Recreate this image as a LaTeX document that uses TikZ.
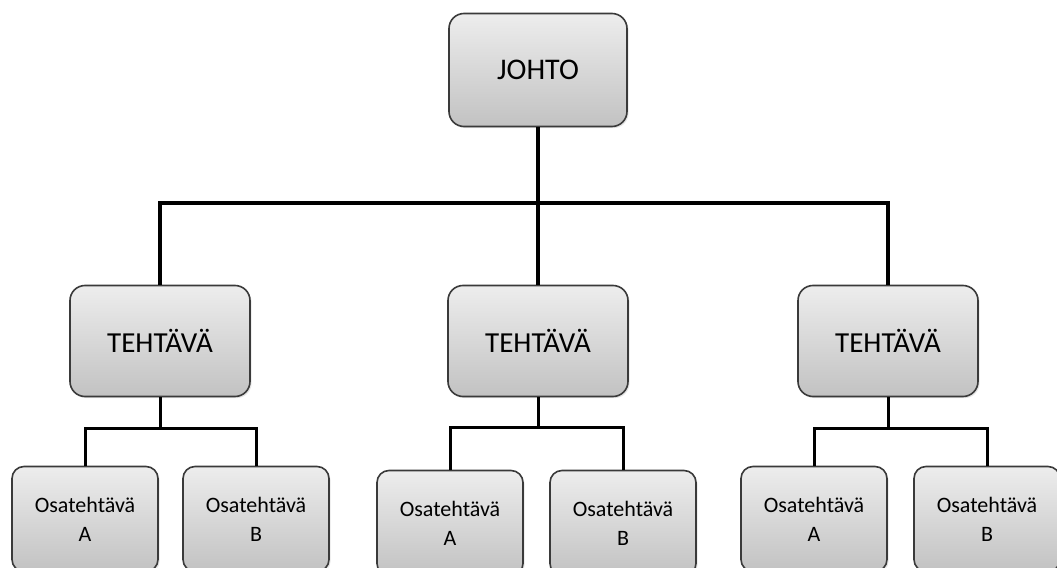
\documentclass[tikz,border=0pt]{standalone}
\usepackage{fontspec}
\setmainfont{Carlito}
\usepackage{xcolor}
\usetikzlibrary{shadows}

\definecolor{boxtop}{HTML}{EDEDED}
\definecolor{boxbot}{HTML}{C2C2C2}
\definecolor{boxline}{HTML}{3A3A3A}

\tikzset{
	orgbox/.style={draw=boxline, line width=0.8pt, rounded corners=7.5pt,
		top color=boxtop, bottom color=boxbot, align=center, inner sep=0pt,
		drop shadow={opacity=0.2, shadow xshift=0.8pt, shadow yshift=-0.8pt}},
	headbox/.style={orgbox, minimum width=89pt, minimum height=56.5pt, font=\fontsize{15}{18}\selectfont},
	taskbox/.style={orgbox, minimum width=90pt, minimum height=55.5pt, font=\fontsize{14.5}{17}\selectfont},
	subbox/.style={orgbox, rounded corners=6pt, minimum width=73pt, minimum height=52.5pt, font=\fontsize{11}{14.5}\selectfont},
	mainline/.style={line width=2pt, black},
	subline/.style={line width=1.5pt, black}
}

\begin{document}
\begin{tikzpicture}[x=0.5pt,y=-0.5pt]
	\useasboundingbox (0,0) rectangle (1057,568);
	% top level
	\node [headbox] (johto) at (538,70) {JOHTO};
	% tasks
	\node [taskbox] (teht1) at (160,341) {TEHTÄVÄ};
	\node [taskbox] (teht2) at (538,341) {TEHTÄVÄ};
	\node [taskbox] (teht3) at (888,341) {TEHTÄVÄ};
	% sub tasks
	\node [subbox] (osa1a) at (85,519) {Osatehtävä\\A};
	\node [subbox] (osa1b) at (256,519) {Osatehtävä\\B};
	\node [subbox] (osa2a) at (450,523) {Osatehtävä\\A};
	\node [subbox] (osa2b) at (623,523) {Osatehtävä\\B};
	\node [subbox] (osa3a) at (814,519) {Osatehtävä\\A};
	\node [subbox] (osa3b) at (987,519) {Osatehtävä\\B};
	% connectors
	\draw [mainline] (johto.south) -- ++(0,76) -| (teht1.north);
	\draw [mainline] (johto.south) -- ++(0,76) -| (teht3.north);
	\draw [mainline] (johto.south) -- (teht2.north);
	\draw [subline] (teht1.south) -- ++(0,31) -| (osa1a.north);
	\draw [subline] (teht1.south) -- ++(0,31) -| (osa1b.north);
	\draw [subline] (teht2.south) -- ++(0,30) -| (osa2a.north);
	\draw [subline] (teht2.south) -- ++(0,30) -| (osa2b.north);
	\draw [subline] (teht3.south) -- ++(0,31) -| (osa3a.north);
	\draw [subline] (teht3.south) -- ++(0,31) -| (osa3b.north);
\end{tikzpicture}
\end{document}
